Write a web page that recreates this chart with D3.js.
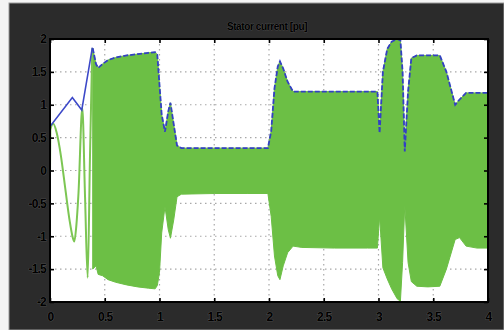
<!DOCTYPE html>
<html>
<head>
<meta charset="utf-8">
<script src="https://cdn.jsdelivr.net/npm/d3@7"></script>
<style>
html,body{margin:0;padding:0;background:#fff;}
svg{display:block;}
</style>
</head>
<body>
<svg id="chart" width="504" height="330"></svg>
<script>
// ---- data ----
const chartTitle = "Stator current [pu]";
const xTicks = [0, 0.5, 1, 1.5, 2, 2.5, 3, 3.5, 4];
const xTickLabels = ["0", "0.5", "1", "1.5", "2", "2.5", "3", "3.5", "4"];
const yTicks = [-2, -1.5, -1, -0.5, 0, 0.5, 1, 1.5, 2];
const yTickLabels = ["-2", "-1.5", "-1", "-0.5", "0", "0.5", "1", "1.5", "2"];

// start-up transient of the instantaneous current (green line)
const earlyT = [0, 0.003, 0.03, 0.06, 0.10, 0.14, 0.18, 0.205, 0.222, 0.24, 0.26, 0.295, 0.32, 0.344, 0.365, 0.386];
const earlyI = [0, 0.62, 0.71, 0.58, 0.22, -0.28, -0.77, -1.0, -1.08, -0.85, -0.35, 0.95, -0.40, -1.63, 0.20, 1.86];

// start-up part of the current amplitude (blue line)
const blueEarlyT = [0.005, 0.204, 0.29, 0.386];
const blueEarlyI = [0.68, 1.11, 0.92, 1.86];

// envelope of the dense oscillation: time, upper (amplitude, blue) and lower bound
const envT = [0.39, 0.42, 0.44, 0.48, 0.53, 0.60, 0.70, 0.80, 0.90, 0.96, 0.98, 1.00, 1.02, 1.05, 1.08, 1.10, 1.13, 1.16, 1.20, 1.50, 1.80, 1.99, 2.02, 2.05, 2.08, 2.10, 2.13, 2.17, 2.22, 2.30, 2.60, 2.90, 2.99, 3.01, 3.04, 3.08, 3.12, 3.17, 3.20, 3.22, 3.24, 3.27, 3.30, 3.35, 3.45, 3.56, 3.62, 3.70, 3.74, 3.80, 3.90, 4.00];
const envUpper = [1.86, 1.62, 1.56, 1.62, 1.68, 1.72, 1.75, 1.77, 1.79, 1.80, 1.76, 1.30, 0.85, 0.59, 0.90, 1.03, 0.70, 0.38, 0.34, 0.34, 0.34, 0.34, 0.60, 1.25, 1.58, 1.66, 1.55, 1.35, 1.20, 1.20, 1.20, 1.20, 1.20, 0.57, 1.50, 1.85, 1.96, 2.00, 1.98, 1.50, 0.29, 1.20, 1.71, 1.75, 1.75, 1.75, 1.50, 1.00, 1.08, 1.18, 1.18, 1.18];
const envLower = [-1.50, -1.45, -1.58, -1.60, -1.66, -1.70, -1.74, -1.77, -1.79, -1.80, -1.75, -1.55, -0.95, -0.55, -0.90, -1.03, -0.75, -0.40, -0.36, -0.35, -0.35, -0.35, -0.70, -1.30, -1.60, -1.66, -1.45, -1.25, -1.15, -1.17, -1.18, -1.18, -1.18, -0.70, -1.48, -1.65, -1.80, -1.95, -1.99, -1.40, -0.52, -1.40, -1.69, -1.76, -1.77, -1.76, -1.50, -1.05, -1.02, -1.15, -1.18, -1.18];

// ---- drawing ----
const W = 504, H = 330;
const plot = {left: 50, right: 488, top: 39, bottom: 302};
const svg = d3.select("#chart");

// figure background
svg.append("rect").attr("x", 0).attr("y", 0).attr("width", W).attr("height", H).attr("fill", "#f4f4f4");
svg.append("rect").attr("x", 9).attr("y", 3).attr("width", W - 9).attr("height", H - 3)
  .attr("fill", "#2b2b2b").attr("stroke", "#9a9a9a").attr("stroke-width", 1);

const x = d3.scaleLinear().domain([0, 4]).range([plot.left, plot.right]);
const y = d3.scaleLinear().domain([-2, 2]).range([plot.bottom, plot.top]);

// plot area
svg.append("rect").attr("x", plot.left).attr("y", plot.top)
  .attr("width", plot.right - plot.left).attr("height", plot.bottom - plot.top).attr("fill", "#ffffff");

svg.append("clipPath").attr("id", "clip").append("rect")
  .attr("x", plot.left).attr("y", plot.top)
  .attr("width", plot.right - plot.left).attr("height", plot.bottom - plot.top);

// grid
const grid = svg.append("g").attr("stroke", "#a8a8a8").attr("stroke-width", 1.2).attr("stroke-dasharray", "1.5,3.5");
grid.selectAll(".gx").data(xTicks.slice(1, -1)).join("line")
  .attr("x1", d => x(d)).attr("x2", d => x(d)).attr("y1", plot.top).attr("y2", plot.bottom);
grid.selectAll(".gy").data(yTicks.slice(1, -1)).join("line")
  .attr("y1", d => y(d)).attr("y2", d => y(d)).attr("x1", plot.left).attr("x2", plot.right);

const data = svg.append("g").attr("clip-path", "url(#clip)");

// dense oscillation band
const envData = envT.map((t, i) => ({t, hi: envUpper[i], lo: envLower[i]}));
data.append("path").datum(envData)
  .attr("fill", "#6cbf45").attr("stroke", "#6cbf45").attr("stroke-width", 1)
  .attr("d", d3.area().x(d => x(d.t)).y0(d => y(d.lo)).y1(d => y(d.hi)));

// start-up green trace
const earlyData = earlyT.map((t, i) => ({t, v: earlyI[i]}));
data.append("path").datum(earlyData)
  .attr("fill", "none").attr("stroke", "#7cc653").attr("stroke-width", 2)
  .attr("d", d3.line().x(d => x(d.t)).y(d => y(d.v)).curve(d3.curveMonotoneX));

// amplitude (blue)
const blueData = blueEarlyT.map((t, i) => ({t, v: blueEarlyI[i]}))
  .concat(envT.map((t, i) => ({t, v: envUpper[i]})));
data.append("path").datum(blueData.slice(0, blueEarlyT.length + 1))
  .attr("fill", "none").attr("stroke", "#3c48c8").attr("stroke-width", 1.6)
  .attr("d", d3.line().x(d => x(d.t)).y(d => y(d.v)));
data.append("path").datum(blueData.slice(blueEarlyT.length))
  .attr("fill", "none").attr("stroke", "#3340c4").attr("stroke-width", 1.8)
  .attr("stroke-dasharray", "5,2")
  .attr("d", d3.line().x(d => x(d.t)).y(d => y(d.v)));

// axes
const fontFam = "'Liberation Sans', Arial, sans-serif";
const xAxis = svg.append("g").attr("transform", `translate(0,${plot.bottom})`)
  .call(d3.axisBottom(x).tickValues(xTicks).tickFormat((d, i) => xTickLabels[i]).tickSize(-4).tickPadding(10));
const yAxis = svg.append("g").attr("transform", `translate(${plot.left},0)`)
  .call(d3.axisLeft(y).tickValues(yTicks).tickFormat((d, i) => yTickLabels[i]).tickSize(-4).tickPadding(4));
const xTop = svg.append("g").attr("transform", `translate(0,${plot.top})`)
  .call(d3.axisTop(x).tickValues(xTicks).tickFormat("").tickSize(-4));
const yRight = svg.append("g").attr("transform", `translate(${plot.right},0)`)
  .call(d3.axisRight(y).tickValues(yTicks).tickFormat("").tickSize(-4));

[xAxis, yAxis, xTop, yRight].forEach(g => {
  g.select(".domain").remove();
  g.selectAll(".tick line").attr("stroke", "#000").attr("stroke-width", 1.6);
  g.selectAll("text").attr("fill", "#000").attr("font-family", fontFam)
    .attr("font-weight", "bold").attr("font-size", 12).attr("letter-spacing", -0.8)
    .attr("stroke", "rgba(255,255,255,0.25)").attr("stroke-width", 0.6).attr("paint-order", "stroke");
});

// plot frame
svg.append("rect").attr("x", plot.left).attr("y", plot.top)
  .attr("width", plot.right - plot.left).attr("height", plot.bottom - plot.top)
  .attr("fill", "none").attr("stroke", "#000").attr("stroke-width", 2);

// title
svg.append("text").attr("x", (plot.left + plot.right) / 2 - 2).attr("y", 30)
  .attr("text-anchor", "middle").attr("font-family", fontFam).attr("font-weight", "bold")
  .attr("font-size", 10).attr("letter-spacing", -0.4).attr("fill", "#000")
  .attr("stroke", "rgba(255,255,255,0.25)").attr("stroke-width", 0.5).attr("paint-order", "stroke")
  .text(chartTitle);
</script>
</body>
</html>
